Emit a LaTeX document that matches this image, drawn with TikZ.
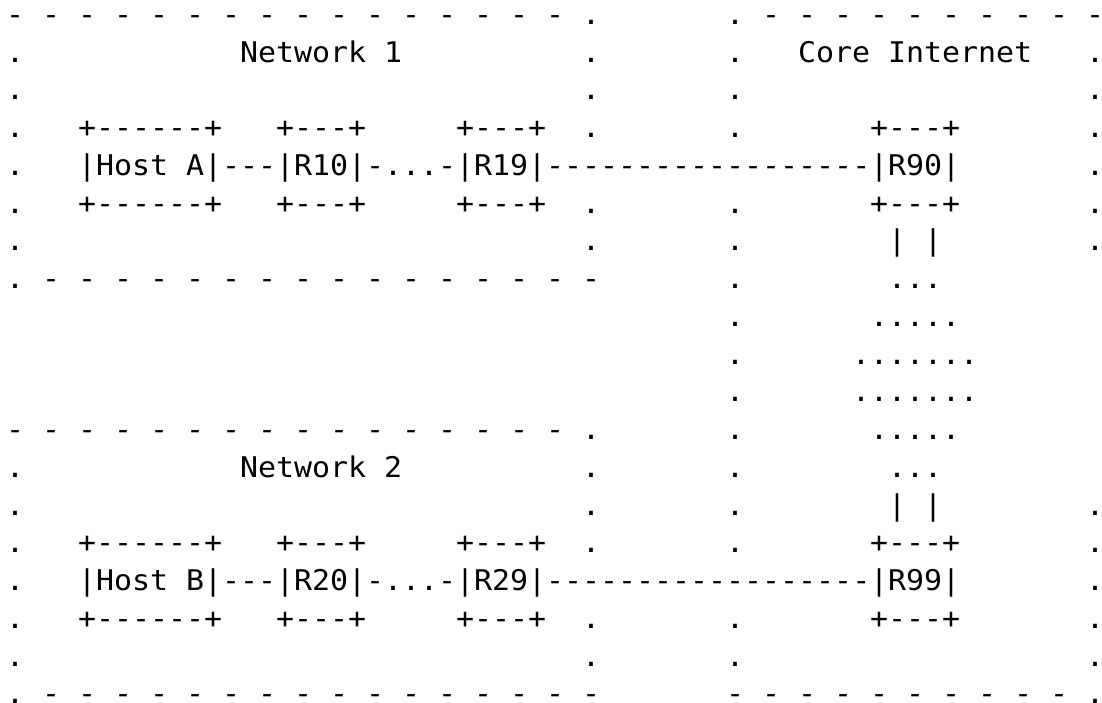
\documentclass[tikz,border=0pt]{standalone}
\usepackage{fontspec}
\newfontfamily\asciimono{DejaVu Sans Mono}[FakeStretch=1.05]
\tikzset{
  txt/.style={font=\asciimono\fontsize{28.5pt}{37.75pt}\selectfont, anchor=base west, inner sep=0pt, outer sep=0pt, text=black},
}
\begin{document}
\begin{tikzpicture}
\useasboundingbox (0,0) rectangle (1102pt,-703pt);
\begin{scope}[shift={(6pt,-24.4pt)}, x=18pt, y=-37.75pt]
% ---- dashed borders (rows 0, 7, 11, 18)
\foreach \c in {0,2,...,30} \node[txt] (topL-\c) at (\c,0) {-};
\foreach \c in {42,44,...,60} \node[txt] (topR-\c) at (\c,0) {-};
\foreach \c in {2,4,...,32} \node[txt] (midA-\c) at (\c,7) {-};
\foreach \c in {0,2,...,30} \node[txt] (midB-\c) at (\c,11) {-};
\foreach \c in {2,4,...,32} \node[txt] (botL-\c) at (\c,18) {-};
\foreach \c in {40,42,...,58} \node[txt] (botR-\c) at (\c,18) {-};
% ---- dotted borders
\foreach \r in {1,2,3,4,5,6,7,12,13,14,15,16,17,18} \node[txt] (dotA-\r) at (0,\r) {.};
\foreach \r in {0,1,2,3,5,6,11,12,13,14,16,17} \node[txt] (dotB-\r) at (32,\r) {.};
\foreach \r in {0,1,2,3,5,6,7,8,9,10,11,12,13,14,16,17} \node[txt] (dotC-\r) at (40,\r) {.};
\foreach \r in {1,2,3,4,5,6,13,14,15,16,17,18} \node[txt] (dotD-\r) at (60,\r) {.};
% ---- titles
\node[txt] (net1) at (13,1) {Network 1};
\node[txt] (core) at (44,1) {Core Internet};
\node[txt] (net2) at (13,12) {Network 2};
% ---- network 1 row
\node[txt] (hostAtop) at (4,3) {+------+};
\node[txt] (hostA) at (4,4) {|Host A|};
\node[txt] (hostAbot) at (4,5) {+------+};
\node[txt] (lnkA) at (12,4) {---};
\node[txt] (r10top) at (15,3) {+---+};
\node[txt] (r10) at (15,4) {|R10|};
\node[txt] (r10bot) at (15,5) {+---+};
\node[txt] (lnk10) at (20,4) {-...-};
\node[txt] (r19top) at (25,3) {+---+};
\node[txt] (r19) at (25,4) {|R19|};
\node[txt] (r19bot) at (25,5) {+---+};
\node[txt] (lnk19) at (30,4) {------------------};
\node[txt] (r90top) at (48,3) {+---+};
\node[txt] (r90) at (48,4) {|R90|};
\node[txt] (r90bot) at (48,5) {+---+};
% ---- core cloud
\node[txt] (barA1) at (49,6) {|};
\node[txt] (barA2) at (51,6) {|};
\node[txt] (cl1) at (49,7) {...};
\node[txt] (cl2) at (48,8) {.....};
\node[txt] (cl3) at (47,9) {.......};
\node[txt] (cl4) at (47,10) {.......};
\node[txt] (cl5) at (48,11) {.....};
\node[txt] (cl6) at (49,12) {...};
\node[txt] (barB1) at (49,13) {|};
\node[txt] (barB2) at (51,13) {|};
% ---- network 2 row
\node[txt] (hostBtop) at (4,14) {+------+};
\node[txt] (hostB) at (4,15) {|Host B|};
\node[txt] (hostBbot) at (4,16) {+------+};
\node[txt] (lnkB) at (12,15) {---};
\node[txt] (r20top) at (15,14) {+---+};
\node[txt] (r20) at (15,15) {|R20|};
\node[txt] (r20bot) at (15,16) {+---+};
\node[txt] (lnk20) at (20,15) {-...-};
\node[txt] (r29top) at (25,14) {+---+};
\node[txt] (r29) at (25,15) {|R29|};
\node[txt] (r29bot) at (25,16) {+---+};
\node[txt] (lnk29) at (30,15) {------------------};
\node[txt] (r99top) at (48,14) {+---+};
\node[txt] (r99) at (48,15) {|R99|};
\node[txt] (r99bot) at (48,16) {+---+};
\end{scope}
\end{tikzpicture}
\end{document}
